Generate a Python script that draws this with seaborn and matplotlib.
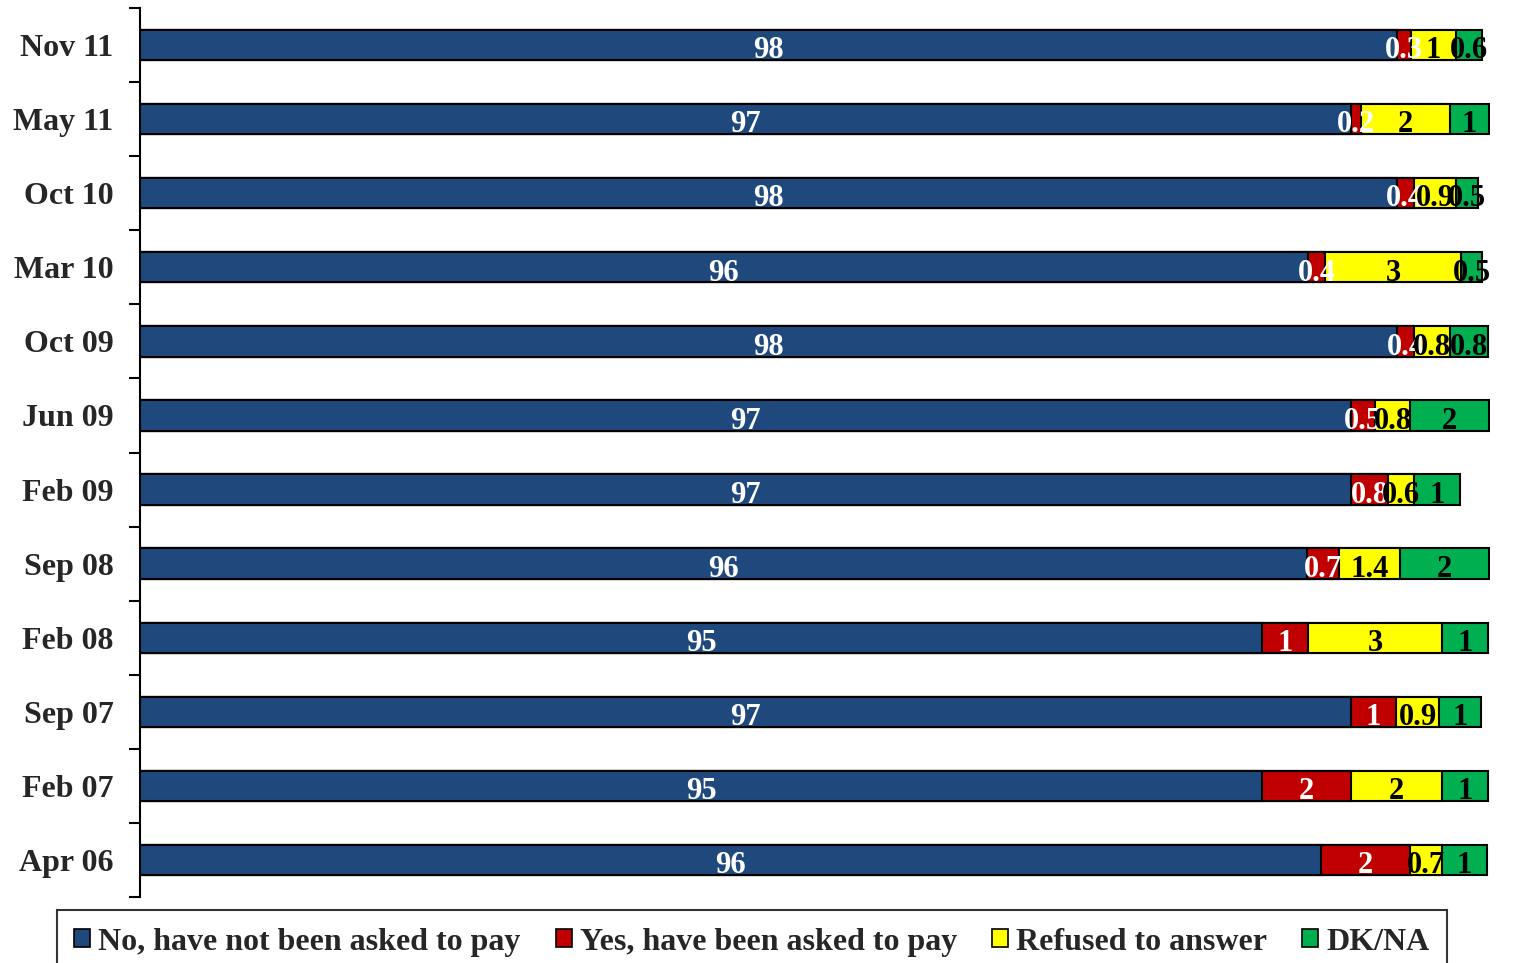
import pandas as pd
import seaborn as sns
import matplotlib.pyplot as plt
import numpy as np
from matplotlib.patches import Patch

# Survey waves, top to bottom
waves = ["Nov 11", "May 11", "Oct 10", "Mar 10", "Oct 09", "Jun 09",
         "Feb 09", "Sep 08", "Feb 08", "Sep 07", "Feb 07", "Apr 06"]

# Shares (the printed labels are rounded)
not_asked = [97.93, 96.91, 97.93, 95.95, 97.93, 96.91, 96.91, 95.94, 94.94, 96.91, 94.94, 96.24]
asked = [0.31, 0.22, 0.38, 0.39, 0.39, 0.53, 0.83, 0.71, 1.01, 1.01, 1.97, 1.99]
refused = [1.00, 1.98, 0.93, 3.01, 0.79, 0.79, 0.57, 1.36, 2.99, 0.94, 2.03, 0.70]
dk_na = [0.58, 0.87, 0.50, 0.48, 0.84, 1.74, 1.02, 1.96, 1.01, 0.95, 1.01, 1.01]

# Printed data labels
lbl_not_asked = ["98", "97", "98", "96", "98", "97", "97", "96", "95", "97", "95", "96"]
lbl_asked = ["0.3", "0.2", "0.4", "0.4", "0.4", "0.5", "0.8", "0.7", "1", "1", "2", "2"]
lbl_refused = ["1", "2", "0.9", "3", "0.8", "0.8", "0.6", "1.4", "3", "0.9", "2", "0.7"]
lbl_dk_na = ["0.6", "1", "0.5", "0.5", "0.8", "2", "1", "2", "1", "1", "1", "1"]

series_names = ["No, have not been asked to pay", "Yes, have been asked to pay",
                "Refused to answer", "DK/NA"]
colors = ["#1F497D", "#C00000", "#FFFF00", "#00B050"]
label_colors = ["white", "white", "black", "black"]

x_min, x_max = 70, 100

sns.set_style("white")
plt.rcParams["font.family"] = ["Liberation Serif", "DejaVu Serif"]
plt.rcParams["font.weight"] = "bold"

df = pd.DataFrame({"wave": waves, "not_asked": not_asked, "asked": asked,
                   "refused": refused, "dk_na": dk_na})
cols = ["not_asked", "asked", "refused", "dk_na"]
labels = [lbl_not_asked, lbl_asked, lbl_refused, lbl_dk_na]
cum = df[cols].cumsum(axis=1)

fig = plt.figure(figsize=(15.17, 9.63), dpi=100)
ax = fig.add_axes([140 / 1517, 1 - 897 / 963, 1350 / 1517, 889 / 963])

# stacked bars: draw cumulative totals from the longest to the shortest
for i in reversed(range(4)):
    sns.barplot(x=cum[cols[i]], y=df["wave"], order=waves, orient="h",
                color=colors[i], saturation=1, width=0.41, errorbar=None,
                edgecolor="black", linewidth=1.5, ax=ax)

# data labels in the middle of the visible part of each segment
for i in range(4):
    lefts = (cum[cols[i]] - df[cols[i]]).clip(lower=x_min)
    mids = (lefts + cum[cols[i]]) / 2
    for j in range(len(waves)):
        ax.text(mids[j], j + 0.03, labels[i][j], ha="center", va="center_baseline",
                color=label_colors[i], fontsize=22, fontweight="bold",
                clip_on=False)

ax.set_xlim(x_min, x_max)
ax.set_ylim(len(waves) - 0.5, -0.5)
ax.set_xlabel("")
ax.set_ylabel("")
ax.xaxis.set_visible(False)
for s in ["top", "right", "bottom"]:
    ax.spines[s].set_visible(False)
ax.spines["left"].set_color("black")
ax.spines["left"].set_linewidth(1.5)

ax.set_yticks(np.arange(-0.5, len(waves), 1.0), minor=True)
ax.tick_params(axis="y", which="minor", length=8, width=1.5, color="black",
               direction="out", left=True)
ax.tick_params(axis="y", which="major", length=0, pad=19, labelsize=23)
for t in ax.get_yticklabels():
    t.set_fontweight("bold")

handles = [Patch(facecolor=c, edgecolor="black", linewidth=1.2) for c in colors]
leg = fig.legend(handles, series_names, loc="upper center",
                 bbox_to_anchor=(752 / 1517, 1 - 910 / 963), ncol=4,
                 frameon=True, fancybox=False, borderaxespad=0,
                 prop={"size": 23, "weight": "bold"},
                 handlelength=0.5, handleheight=0.5, handletextpad=0.25,
                 columnspacing=1.1, borderpad=0.55)
leg.get_frame().set_edgecolor("black")
leg.get_frame().set_linewidth(1.5)

fig.savefig("out.png", dpi=100)
